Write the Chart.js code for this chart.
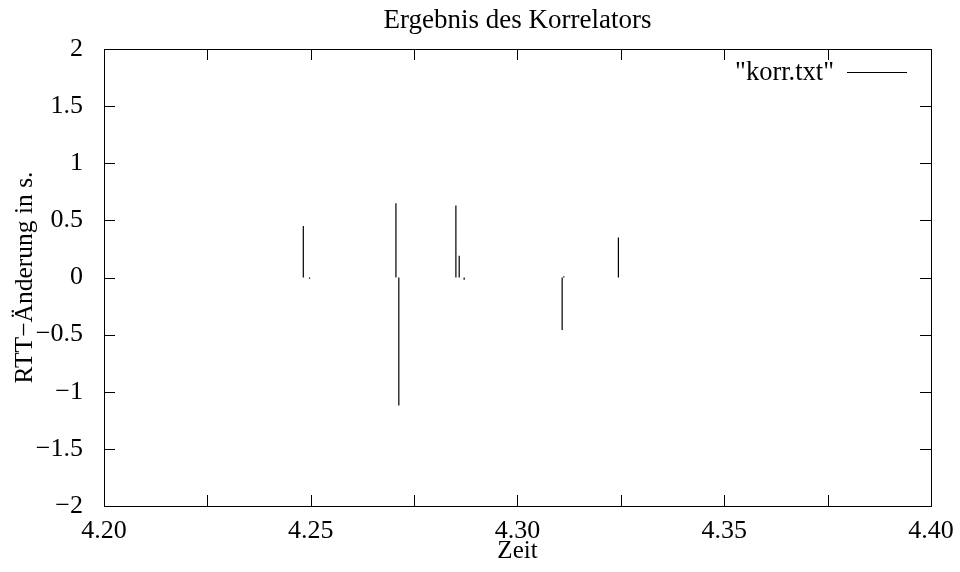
<!DOCTYPE html>
<html><head><meta charset="utf-8">
<script src="https://cdn.jsdelivr.net/npm/chart.js@4"></script>
<style>html,body{margin:0;padding:0;background:#fff}#c{display:block}</style>
</head><body>
<canvas id="c" width="960" height="572"></canvas>
<script>
// impulse positions (Zeit) and values (RTT-Änderung in s.)
const zeit   = [4.2482, 4.2497, 4.2706, 4.2713, 4.2851, 4.2859, 4.2871, 4.3108, 4.3112, 4.3244];
const werte  = [0.45,  -0.01,   0.65,  -1.12,   0.63,   0.19,  -0.02,  -0.46,   0.01,   0.35];
const xTicks = [4.20, 4.225, 4.25, 4.275, 4.30, 4.325, 4.35, 4.375, 4.40];
const xLabels= ["4.20", "", "4.25", "", "4.30", "", "4.35", "", "4.40"];
const yTicks = [-2, -1.5, -1, -0.5, 0, 0.5, 1, 1.5, 2];
const yLabels= ["\u22122", "\u22121.5", "\u22121", "\u22120.5", "0", "0.5", "1", "1.5", "2"];
const legendLabel = '"korr.txt"';
const titleText = 'Ergebnis des Korrelators';

const pts = [];
zeit.forEach((x, i) => { pts.push({x, y: 0}, {x, y: werte[i]}, {x, y: null}); });

const FONT = "'Liberation Serif', 'DejaVu Serif', serif";

const frame = {
  id: 'frame',
  afterDraw(chart) {
    const {ctx, chartArea: a, scales: {x, y}} = chart;
    ctx.save();
    ctx.strokeStyle = '#000'; ctx.lineWidth = 1;
    ctx.strokeRect(Math.round(a.left) + 0.5, Math.round(a.top) + 0.5,
                   Math.round(a.right - a.left), Math.round(a.bottom - a.top));
    ctx.beginPath();
    const L = 11;
    xTicks.forEach(v => {
      const px = Math.round(x.getPixelForValue(v)) + 0.5;
      ctx.moveTo(px, a.bottom); ctx.lineTo(px, a.bottom - L);
      ctx.moveTo(px, a.top); ctx.lineTo(px, a.top + L);
    });
    yTicks.forEach(v => {
      const py = Math.round(y.getPixelForValue(v)) + 0.5;
      ctx.moveTo(a.left, py); ctx.lineTo(a.left + L, py);
      ctx.moveTo(a.right, py); ctx.lineTo(a.right - L, py);
    });
    ctx.stroke();
    ctx.fillStyle = '#000';
    // title, centred over the plot area
    ctx.font = "27px " + FONT;
    ctx.textAlign = 'center'; ctx.textBaseline = 'middle';
    ctx.fillText(titleText, (a.left + a.right) / 2, 21);
    // legend
    ctx.font = "26.5px " + FONT;
    ctx.textAlign = 'right'; ctx.textBaseline = 'middle';
    ctx.fillText(legendLabel, 834, 73);
    ctx.beginPath();
    ctx.moveTo(847, 72.5); ctx.lineTo(907, 72.5);
    ctx.stroke();
    ctx.restore();
  }
};

new Chart(document.getElementById('c'), {
  type: 'line',
  data: { datasets: [{
    label: legendLabel, data: pts, borderColor: '#000', borderWidth: 1.2,
    pointRadius: 0, spanGaps: false, tension: 0
  }]},
  options: {
    responsive: false, animation: false, devicePixelRatio: 1,
    layout: { padding: { left: 0, right: 29, top: 49, bottom: 0 } },
    plugins: {
      legend: { display: false }, tooltip: { enabled: false },
      title: { display: false }
    },
    scales: {
      x: {
        type: 'linear', min: 4.20, max: 4.40,
        afterBuildTicks: s => { s.ticks = xTicks.map(v => ({value: v})); },
        afterFit: s => { s.height = 66; },
        grid: { display: false }, border: { display: false },
        ticks: { autoSkip: false, maxRotation: 0, color: '#000', padding: 2,
                 font: { family: FONT, size: 26 },
                 callback: (v, i) => xLabels[i] },
        title: { display: true, text: 'Zeit', color: '#000', padding: { top: 0, bottom: 6 },
                 font: { family: FONT, size: 25 } }
      },
      y: {
        min: -2, max: 2,
        afterBuildTicks: s => { s.ticks = yTicks.map(v => ({value: v})); },
        afterFit: s => { s.width = 104; },
        grid: { display: false }, border: { display: false },
        ticks: { color: '#000', padding: 13, font: { family: FONT, size: 26 },
                 callback: (v, i) => yLabels[i] },
        title: { display: true, text: 'RTT\u2212Änderung in s.', color: '#000',
                 padding: { top: 10, bottom: 0 }, font: { family: FONT, size: 25.5 } }
      }
    }
  },
  plugins: [frame]
});
</script>
</body></html>
